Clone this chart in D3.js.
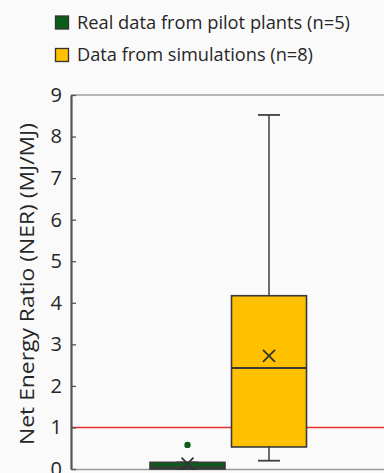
<!DOCTYPE html>
<html>
<head>
<meta charset="utf-8">
<script src="https://cdn.jsdelivr.net/npm/d3@7"></script>
<style>
  html, body { margin: 0; padding: 0; background: #fafafb; }
  svg { display: block; }
  text { font-family: 'Open Sans', 'Noto Sans', sans-serif; fill: #262626; }
</style>
</head>
<body>
<div id="chart"></div>
<script>
// Box plot data (NER, MJ/MJ)
const categories = ['Real data from pilot plants (n=5)', 'Data from simulations (n=8)'];
const colors = ['#0b5e17', '#ffc000'];
const whiskerLow = [0.0, 0.2];
const q1 = [0.0, 0.53];
const median = [0.05, 2.43];
const q3 = [0.16, 4.17];
const whiskerHigh = [0.16, 8.52];
const means = [0.13, 2.72];
const outliers = [[0.58], []];
const yTicks = [0, 1, 2, 3, 4, 5, 6, 7, 8, 9];
const threshold = 1;

const W = 384, H = 473;
const svg = d3.select('#chart').append('svg')
    .attr('width', W)
    .attr('height', H);

const plotLeft = 71, plotRight = 384, plotTop = 95, plotBottom = 469;

const y = d3.scaleLinear().domain([0, 9]).range([plotBottom, plotTop]);
const x = d3.scalePoint().domain(categories).range([187.5, 269]);
const boxW = 75, capW = 22;

// Top frame line
svg.append('line')
    .attr('x1', plotLeft).attr('x2', plotRight)
    .attr('y1', y(9)).attr('y2', y(9))
    .attr('stroke', '#a0a0a0').attr('stroke-width', 1.5);

// Bottom axis (no ticks)
const xAxis = svg.append('g')
    .attr('transform', `translate(0,${plotBottom})`)
    .call(d3.axisBottom(d3.scaleLinear().range([plotLeft, plotRight])).tickValues([]).tickSizeOuter(0));
xAxis.select('.domain').attr('stroke', '#9a9a9a').attr('stroke-width', 1.5);

// Threshold line
svg.append('line')
    .attr('x1', plotLeft).attr('x2', plotRight)
    .attr('y1', y(threshold)).attr('y2', y(threshold))
    .attr('stroke', '#e8302c').attr('stroke-width', 1.6);

// Boxes
categories.forEach((c, i) => {
    const cx = x(c);
    const g = svg.append('g');

    // whiskers
    g.append('line')
        .attr('x1', cx).attr('x2', cx)
        .attr('y1', y(whiskerHigh[i])).attr('y2', y(q3[i]))
        .attr('stroke', '#404040').attr('stroke-width', 1.5);
    g.append('line')
        .attr('x1', cx).attr('x2', cx)
        .attr('y1', y(q1[i])).attr('y2', y(whiskerLow[i]))
        .attr('stroke', '#404040').attr('stroke-width', 1.5);
    [whiskerHigh[i], whiskerLow[i]].forEach(v => {
        g.append('line')
            .attr('x1', cx - capW / 2).attr('x2', cx + capW / 2)
            .attr('y1', y(v)).attr('y2', y(v))
            .attr('stroke', '#404040').attr('stroke-width', 1.8);
    });

    // box
    g.append('rect')
        .attr('x', cx - boxW / 2)
        .attr('y', y(q3[i]))
        .attr('width', boxW)
        .attr('height', y(q1[i]) - y(q3[i]))
        .attr('fill', colors[i])
        .attr('stroke', '#3a3a3a')
        .attr('stroke-width', 1.6);

    // median
    g.append('line')
        .attr('x1', cx - boxW / 2).attr('x2', cx + boxW / 2)
        .attr('y1', y(median[i])).attr('y2', y(median[i]))
        .attr('stroke', '#3a3a3a').attr('stroke-width', 1.8);

    // mean marker
    const my = y(means[i]), s = 6;
    g.append('path')
        .attr('d', `M${cx - s},${my - s}L${cx + s},${my + s}M${cx - s},${my + s}L${cx + s},${my - s}`)
        .attr('stroke', '#333').attr('stroke-width', 1.7).attr('fill', 'none');

    // outliers
    g.selectAll('.outlier')
        .data(outliers[i])
        .enter().append('circle')
        .attr('class', 'outlier')
        .attr('cx', cx)
        .attr('cy', d => y(d))
        .attr('r', 3.2)
        .attr('fill', colors[i]);
});

// Y axis
const yAxis = svg.append('g')
    .attr('transform', `translate(${plotLeft},0)`)
    .call(d3.axisLeft(y).tickValues(yTicks).tickSizeInner(-5).tickSizeOuter(0).tickPadding(9));
yAxis.select('.domain').attr('stroke', '#555').attr('stroke-width', 2.2);
yAxis.selectAll('.tick line').attr('stroke', '#555').attr('stroke-width', 1.3);
yAxis.selectAll('.tick text')
    .style('font-family', "'Open Sans', sans-serif")
    .style('font-size', '20px')
    .attr('fill', '#262626');

// Y label
svg.append('text')
    .attr('transform', `translate(34,${(plotTop + plotBottom) / 2 + 2}) rotate(-90)`)
    .attr('text-anchor', 'middle')
    .attr('textLength', 322)
    .attr('lengthAdjust', 'spacingAndGlyphs')
    .style('font-size', '19.5px')
    .text('Net Energy Ratio (NER) (MJ/MJ)');

// Legend
const legend = svg.append('g');
const legendY = [22.5, 55];
const legendLen = [273, 236];
categories.forEach((c, i) => {
    legend.append('rect')
        .attr('x', 55.5).attr('y', legendY[i] - 6.5)
        .attr('width', 13).attr('height', 13)
        .attr('fill', colors[i])
        .attr('stroke', '#333').attr('stroke-width', 1.3);
    legend.append('text')
        .attr('x', 77)
        .attr('y', legendY[i])
        .attr('dy', '0.35em')
        .attr('textLength', legendLen[i])
        .attr('lengthAdjust', 'spacingAndGlyphs')
        .style('font-size', '17.5px')
        .text(c);
});
</script>
</body>
</html>
